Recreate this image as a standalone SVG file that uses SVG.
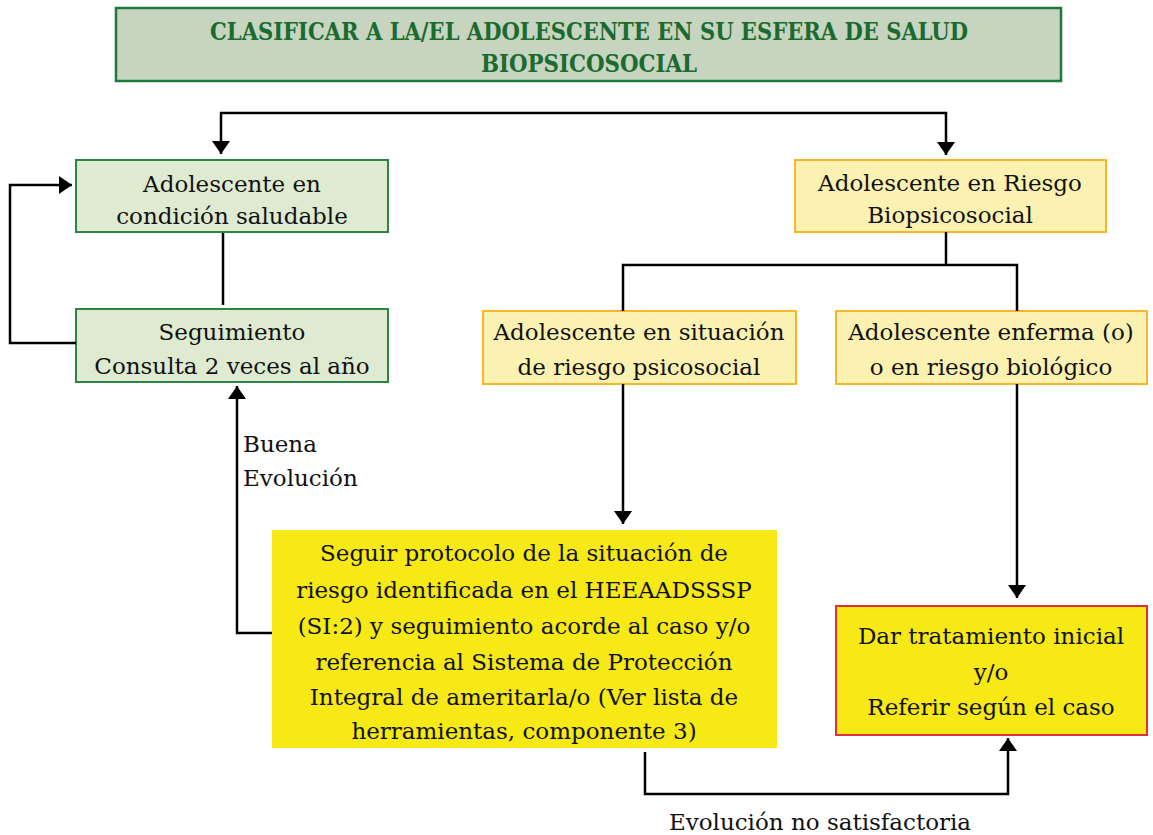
<svg xmlns="http://www.w3.org/2000/svg" width="1153" height="835" viewBox="0 0 1153 835">
<defs>
<marker id="ah" viewBox="0 0 13 18" refX="13" refY="9" markerWidth="13" markerHeight="18" markerUnits="userSpaceOnUse" orient="auto">
<path d="M0,0 L13,9 L0,18 z" fill="#000"/>
</marker>
<style>
.t{font-family:"DejaVu Serif","Liberation Serif",serif;font-size:23px;fill:#111;text-anchor:middle}
.l{font-family:"DejaVu Serif","Liberation Serif",serif;font-size:23px;fill:#111}
.ttl{font-family:"DejaVu Serif Condensed","DejaVu Serif","Liberation Serif",serif;font-weight:bold;font-size:25px;fill:#1a6b30;text-anchor:middle}
.g{fill:#deebd0;stroke:#2f8445;stroke-width:2}
.y{fill:#fbf2b2;stroke:#f5b82a;stroke-width:2}
.c{fill:none;stroke:#000;stroke-width:2.5}
</style>
</defs>
<g id="title">
<rect x="116" y="8" width="945" height="73" fill="#c6d4c0" stroke="#1e7a3c" stroke-width="2.5"/>
<text class="ttl" x="589" y="40" textLength="758" lengthAdjust="spacingAndGlyphs">CLASIFICAR A LA/EL ADOLESCENTE EN SU ESFERA DE SALUD</text>
<text class="ttl" x="589" y="72" textLength="216" lengthAdjust="spacingAndGlyphs">BIOPSICOSOCIAL</text>
</g>
<g id="saludable">
<rect class="g" x="76" y="160" width="312" height="72"/>
<text class="t" x="232" y="192">Adolescente en</text>
<text class="t" x="232" y="224">condición saludable</text>
</g>
<g id="seguimiento">
<rect class="g" x="76" y="309" width="312" height="73"/>
<text class="t" x="232" y="340">Seguimiento</text>
<text class="t" x="232" y="374">Consulta 2 veces al año</text>
</g>
<g id="riesgo">
<rect class="y" x="795" y="160" width="311" height="72"/>
<text class="t" x="950" y="191">Adolescente en Riesgo</text>
<text class="t" x="950" y="223">Biopsicosocial</text>
</g>
<g id="psicosocial">
<rect class="y" x="483" y="311" width="313" height="73"/>
<text class="t" x="639" y="340">Adolescente en situación</text>
<text class="t" x="639" y="375">de riesgo psicosocial</text>
</g>
<g id="biologico">
<rect class="y" x="836" y="311" width="311" height="73"/>
<text class="t" x="991" y="340">Adolescente enferma (o)</text>
<text class="t" x="991" y="375">o en riesgo biológico</text>
</g>
<g id="protocolo">
<rect x="272" y="530" width="505" height="218" fill="#f6e916"/>
<text class="t" x="524" y="561">Seguir protocolo de la situación de</text>
<text class="t" x="524" y="598">riesgo identificada en el HEEAADSSSP</text>
<text class="t" x="524" y="634">(SI:2) y seguimiento acorde al caso y/o</text>
<text class="t" x="524" y="670">referencia al Sistema de Protección</text>
<text class="t" x="524" y="705">Integral de ameritarla/o (Ver lista de</text>
<text class="t" x="524" y="739">herramientas, componente 3)</text>
</g>
<g id="tratamiento">
<rect x="836" y="606" width="311" height="129" fill="#f6e916" stroke="#e0303a" stroke-width="2"/>
<text class="t" x="991" y="644">Dar tratamiento inicial</text>
<text class="t" x="991" y="680">y/o</text>
<text class="t" x="991" y="715">Referir según el caso</text>
</g>
<g id="connectors">
<path class="c" d="M584,113 H221 V154" marker-end="url(#ah)"/>
<path class="c" d="M584,113 H946 V155" marker-end="url(#ah)"/>
<path class="c" d="M223,233 V305"/>
<path class="c" d="M76,343 H10 V185 H72" marker-end="url(#ah)"/>
<path class="c" d="M946,232 V265"/>
<path class="c" d="M623,311 V265 H1017 V311"/>
<path class="c" d="M623,384 V524" marker-end="url(#ah)"/>
<path class="c" d="M1017,384 V598" marker-end="url(#ah)"/>
<path class="c" d="M272,633 H237 V386" marker-end="url(#ah)"/>
<path class="c" d="M645,752 V794 H1008 V738" marker-end="url(#ah)"/>
</g>
<g id="labels">
<text class="l" x="243" y="452">Buena</text>
<text class="l" x="243" y="486">Evolución</text>
<text class="t" x="820" y="830">Evolución no satisfactoria</text>
</g>
</svg>
